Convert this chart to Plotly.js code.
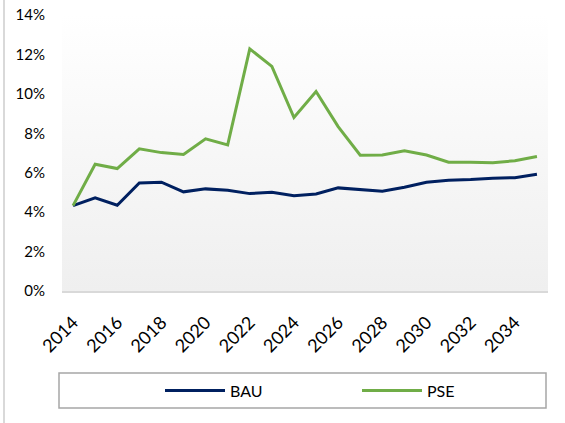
<!DOCTYPE html>
<html><head><meta charset="utf-8">
<script src="https://cdn.plot.ly/plotly-3.0.1.min.js"></script>
<style>
html,body{margin:0;padding:0;background:#fff;}
#chart{width:565px;height:423px;position:relative;}
#edge{position:absolute;left:3px;top:0;width:2px;height:423px;background:#d9d9d9;z-index:10;}
</style>
</head><body>
<div id="chart"></div><div id="edge"></div>
<script>
const years = [2014,2015,2016,2017,2018,2019,2020,2021,2022,2023,2024,2025,2026,2027,2028,2029,2030,2031,2032,2033,2034,2035];
const bau = [4.33,4.72,4.35,5.48,5.52,5.03,5.18,5.11,4.94,5.01,4.83,4.92,5.23,5.16,5.06,5.26,5.52,5.62,5.65,5.72,5.75,5.92];
const pse = [4.33,6.43,6.21,7.21,7.02,6.92,7.72,7.41,12.28,11.39,8.80,10.12,8.34,6.89,6.90,7.11,6.90,6.53,6.53,6.50,6.61,6.82];
const seriesNames = ['BAU','PSE'];
const xTickVals = [2014,2016,2018,2020,2022,2024,2026,2028,2030,2032,2034];
const xTickText = ['2014','2016','2018','2020','2022','2024','2026','2028','2030','2032','2034'];
const yTickVals = [0,2,4,6,8,10,12,14];
const yTickText = ['0%','2%','4%','6%','8%','10%','12%','14%'];

const FONT = 'Lato, "Open Sans", sans-serif';
const W = 565, H = 423;
const L = 62, R = 17, T = 15, B = 132;
const pw = W - L - R, ph = H - T - B;
const px2x = p => (p - L) / pw;
const px2y = p => (H - B - p) / ph;

const gradSvg = '<svg xmlns="http://www.w3.org/2000/svg" width="10" height="100" preserveAspectRatio="none">' +
  '<defs><linearGradient id="g" x1="0" y1="0" x2="0" y2="1">' +
  '<stop offset="0" stop-color="#ffffff"/><stop offset="1" stop-color="#efefef"/></linearGradient></defs>' +
  '<rect width="10" height="100" fill="url(#g)"/></svg>';
const gradUri = 'data:image/svg+xml;utf8,' + encodeURIComponent(gradSvg);

const traces = [
  {x: years, y: bau, name: seriesNames[0], type: 'scatter', mode: 'lines',
   line: {color: '#002060', width: 3}, legend: 'legend'},
  {x: years, y: pse, name: seriesNames[1], type: 'scatter', mode: 'lines',
   line: {color: '#70ad47', width: 3}, legend: 'legend2'}
];

const legendCommon = {orientation: 'h', yanchor: 'middle', xanchor: 'left', itemwidth: 60,
  bgcolor: 'rgba(0,0,0,0)', borderwidth: 0, font: {family: FONT, size: 16, color: '#000'}};

const layout = {
  width: W, height: H,
  margin: {l: L, r: R, t: T, b: B, pad: 0},
  paper_bgcolor: '#ffffff',
  plot_bgcolor: 'rgba(0,0,0,0)',
  font: {family: FONT, size: 15, color: '#000'},
  showlegend: true,
  xaxis: {
    type: 'linear', range: [2013.5, 2035.5],
    tickmode: 'array', tickvals: xTickVals, ticktext: xTickText,
    tickangle: -45, ticks: '', showgrid: false, zeroline: false,
    showline: true, linecolor: '#d9d9d9', linewidth: 2,
    ticklabelstandoff: 12,
    tickfont: {family: FONT, size: 18, color: '#000'}
  },
  yaxis: {
    range: [0, 14], tickmode: 'array', tickvals: yTickVals, ticktext: yTickText,
    ticks: '', showgrid: false, zeroline: false, showline: false,
    ticklabelstandoff: 16,
    tickfont: {family: FONT, size: 15, color: '#000'}
  },
  legend: Object.assign({}, legendCommon, {x: px2x(160), y: px2y(390.5)}),
  legend2: Object.assign({}, legendCommon, {x: px2x(357), y: px2y(390.5)}),
  images: [{source: gradUri, xref: 'paper', yref: 'paper', x: 0, y: 1, sizex: 1, sizey: 1,
    xanchor: 'left', yanchor: 'top', sizing: 'stretch', layer: 'below'}],
  shapes: [{type: 'rect', xref: 'paper', yref: 'paper',
    x0: px2x(59), x1: px2x(546), y0: px2y(373), y1: px2y(408),
    line: {color: '#a6a6a6', width: 1.5}, fillcolor: 'rgba(0,0,0,0)'}]
};

Plotly.newPlot('chart', traces, layout, {displayModeBar: false, staticPlot: true});
</script>
</body></html>
